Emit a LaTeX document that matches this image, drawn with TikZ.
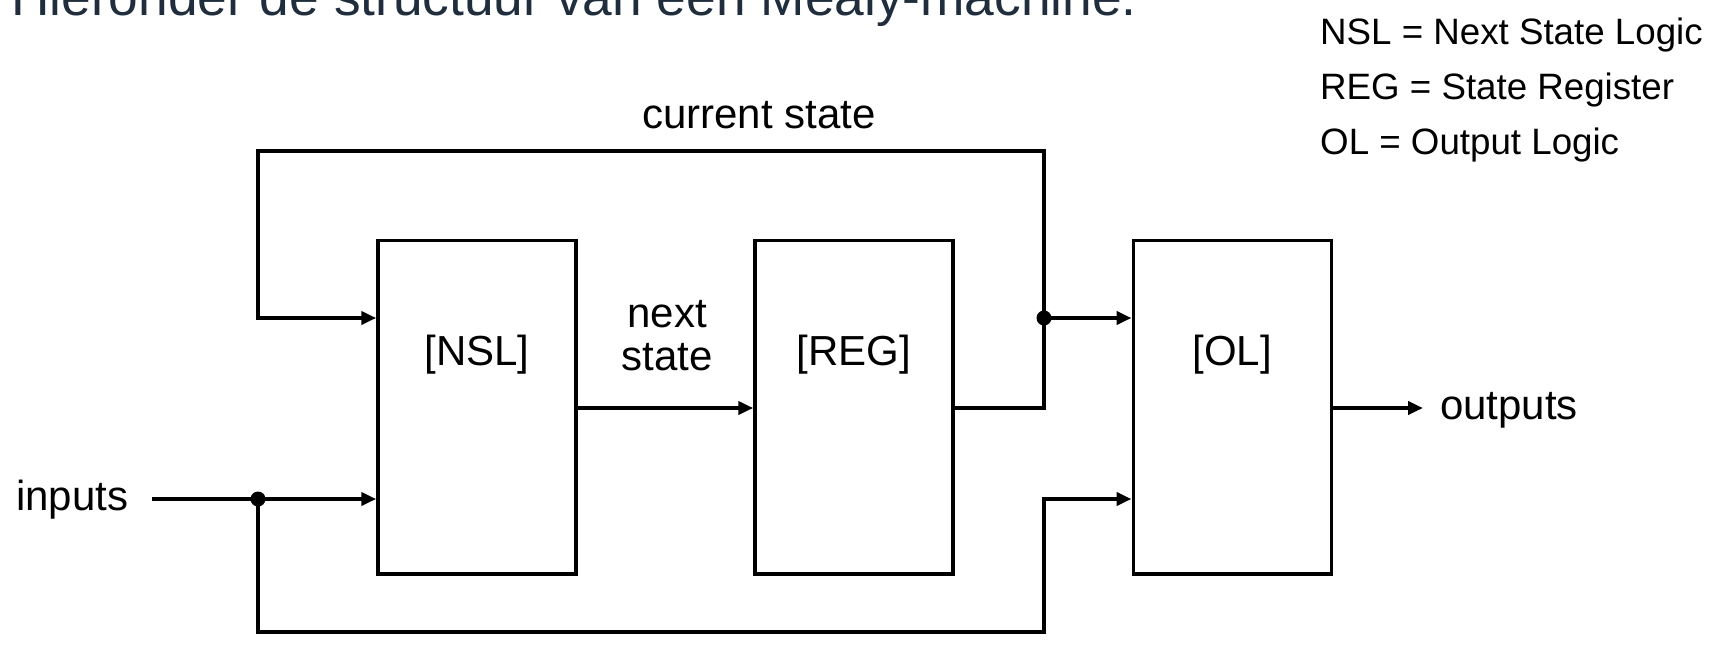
\documentclass[tikz,border=0pt]{standalone}
\usepackage{fontspec}
\setmainfont{Liberation Sans}
\usetikzlibrary{arrows.meta}
\definecolor{titleblue}{HTML}{1F2D3D}
\begin{document}
\begin{tikzpicture}[x=1pt,y=-1pt,
  blk/.style={draw=black,line width=3.5pt,minimum width=198pt,minimum height=333.5pt,inner sep=0pt},
  wire/.style={line width=3.8pt,line join=miter},
  arr/.style={wire,-{Triangle[length=15pt,width=13pt]}},
  lbl/.style={inner sep=0pt,font=\fontsize{42}{50}\selectfont},
  leg/.style={inner sep=0pt,anchor=base west,font=\fontsize{36.7}{44}\selectfont},
  dotc/.style={fill=black}]
\useasboundingbox (0,0) rectangle (1714,664);
\clip (0,0) rectangle (1714,664);
% title (cut off at top)
\node[inner sep=0pt,anchor=base west,text=titleblue,font=\fontsize{53.3}{60}\selectfont] (title) at (11,15) {Hieronder de structuur van een Mealy-machine.};
% legend
\node[leg] (l1) at (1320,44) {NSL = Next State Logic};
\node[leg] (l2) at (1320,99) {REG = State Register};
\node[leg] (l3) at (1320,154) {OL = Output Logic};
% blocks
\node[blk] (nsl) at (477,407.25) {};
\node[blk] (reg) at (854,407.25) {};
\node[blk] (ol) at (1232.25,407.25) {};
\node[lbl,anchor=base] (tnsl) at (477,365) {[NSL]};
\node[lbl,anchor=base] (treg) at (854,365) {[REG]};
\node[lbl,anchor=base] (tol) at (1232.25,365) {[OL]};
% labels
\node[lbl,anchor=base] (cs) at (759,128) {current state};
\node[lbl,anchor=base] (ns1) at (667,327) {next};
\node[lbl,anchor=base] (ns2) at (667,370) {state};
\node[lbl,anchor=base west] (inputs) at (16,510) {inputs};
\node[lbl,anchor=base west] (outputs) at (1440,419) {outputs};
% junction coordinates
\coordinate (instart) at (152,499);
\coordinate (j0) at (258,499);
\coordinate (tl) at (258,151);
\coordinate (tr) at (1044,151);
\coordinate (j1) at (1044,318);
\coordinate (bl) at (258,632);
\coordinate (br) at (1044,632);
\coordinate (bu) at (1044,499);
\coordinate (outtip) at (1423,408);
% connectors
\draw[arr] (instart) -- (nsl.west |- instart);
\draw[arr] (nsl.east |- 0,408) -- (reg.west |- 0,408);
\draw[arr] (reg.east |- 0,408) -| (tr) -- (tl) |- (nsl.west |- j1);
\draw[arr] (j1) -- (ol.west |- j1);
\draw[arr] (j0) -- (bl) -- (br) -- (bu) -- (ol.west |- bu);
\draw[arr] (ol.east |- outtip) -- (outtip);
\fill[dotc] (j0) circle (7.5);
\fill[dotc] (j1) circle (7.5);
\end{tikzpicture}
\end{document}
